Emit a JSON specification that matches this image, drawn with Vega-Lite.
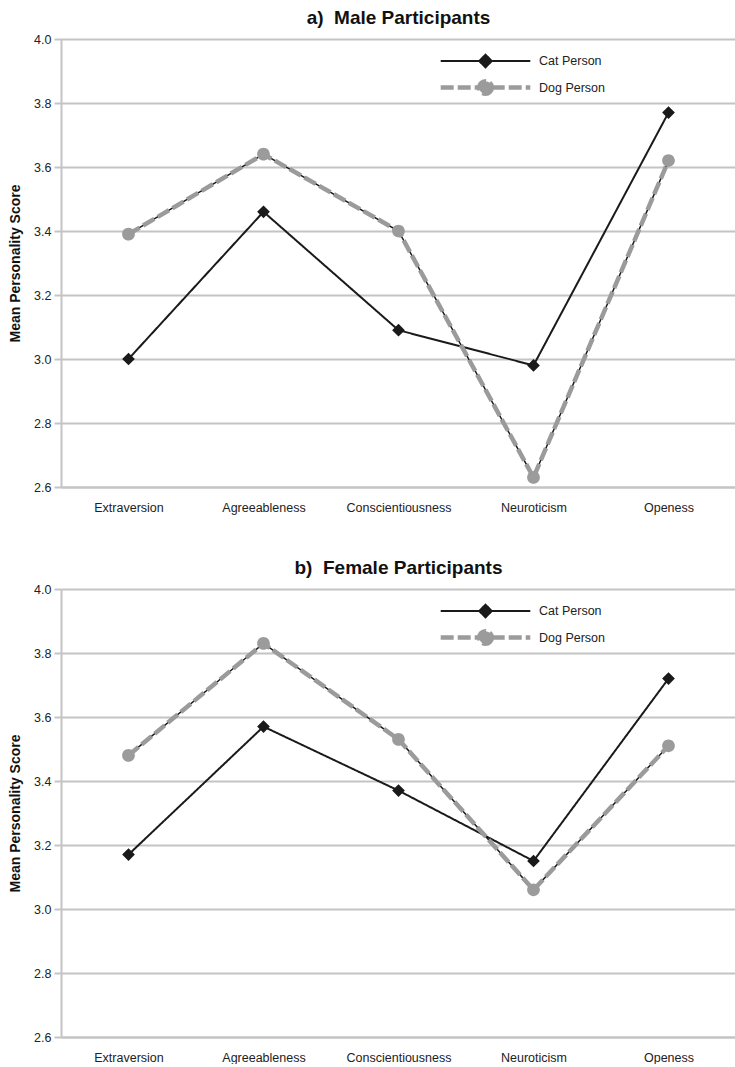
{
  "$schema": "https://vega.github.io/schema/vega-lite/v6.json",
  "padding": {"top": 9, "left": 8, "right": 0, "bottom": 0},
  "spacing": 45,
  "data": {"values": [
    {"gender": "Male", "trait": "Extraversion", "series": "Cat Person", "score": 3.00},
    {"gender": "Male", "trait": "Agreeableness", "series": "Cat Person", "score": 3.46},
    {"gender": "Male", "trait": "Conscientiousness", "series": "Cat Person", "score": 3.09},
    {"gender": "Male", "trait": "Neuroticism", "series": "Cat Person", "score": 2.98},
    {"gender": "Male", "trait": "Openess", "series": "Cat Person", "score": 3.77},
    {"gender": "Male", "trait": "Extraversion", "series": "Dog Person", "score": 3.39},
    {"gender": "Male", "trait": "Agreeableness", "series": "Dog Person", "score": 3.64},
    {"gender": "Male", "trait": "Conscientiousness", "series": "Dog Person", "score": 3.40},
    {"gender": "Male", "trait": "Neuroticism", "series": "Dog Person", "score": 2.63},
    {"gender": "Male", "trait": "Openess", "series": "Dog Person", "score": 3.62},
    {"gender": "Female", "trait": "Extraversion", "series": "Cat Person", "score": 3.17},
    {"gender": "Female", "trait": "Agreeableness", "series": "Cat Person", "score": 3.57},
    {"gender": "Female", "trait": "Conscientiousness", "series": "Cat Person", "score": 3.37},
    {"gender": "Female", "trait": "Neuroticism", "series": "Cat Person", "score": 3.15},
    {"gender": "Female", "trait": "Openess", "series": "Cat Person", "score": 3.72},
    {"gender": "Female", "trait": "Extraversion", "series": "Dog Person", "score": 3.48},
    {"gender": "Female", "trait": "Agreeableness", "series": "Dog Person", "score": 3.83},
    {"gender": "Female", "trait": "Conscientiousness", "series": "Dog Person", "score": 3.53},
    {"gender": "Female", "trait": "Neuroticism", "series": "Dog Person", "score": 3.06},
    {"gender": "Female", "trait": "Openess", "series": "Dog Person", "score": 3.51}
  ]},
  "vconcat": [
    {
      "title": {"text": "a)\u00a0\u00a0Male Participants"},
      "width": 675,
      "height": 448,
      "transform": [{"filter": "datum.gender === 'Male'"}],
      "encoding": {
        "x": {"field": "trait", "type": "nominal", "sort": ["Extraversion", "Agreeableness", "Conscientiousness", "Neuroticism", "Openess"], "scale": {"type": "point", "padding": 0.5}, "axis": {"title": null, "labelAngle": 0, "ticks": false, "labelPadding": 14, "grid": false}},
        "y": {"field": "score", "type": "quantitative", "scale": {"domain": [2.6, 4.0], "nice": false, "zero": false}, "axis": {"title": "Mean Personality Score", "values": [2.6, 2.8, 3.0, 3.2, 3.4, 3.6, 3.8, 4.0], "format": ".1f"}}
      },
      "layer": [
        {"transform": [{"filter": "datum.series === 'Dog Person'"}], "mark": {"type": "line", "color": "#1a1a1a", "strokeWidth": 1.5}},
        {"mark": {"type": "line"},
         "encoding": {
           "color": {"field": "series", "type": "nominal", "scale": {"domain": ["Cat Person", "Dog Person"], "range": ["#1a1a1a", "#9b9b9b"]}, "legend": {"title": null}},
           "strokeDash": {"field": "series", "type": "nominal", "scale": {"domain": ["Cat Person", "Dog Person"], "range": [[1, 0], [13, 4]]}, "legend": {"title": null}},
           "strokeWidth": {"field": "series", "type": "nominal", "scale": {"domain": ["Cat Person", "Dog Person"], "range": [2, 4.5]}, "legend": {"title": null}}
         }},
        {"mark": {"type": "point", "filled": true, "size": 200, "opacity": 1},
         "encoding": {
           "color": {"field": "series", "type": "nominal", "legend": {"title": null}},
           "shape": {"field": "series", "type": "nominal", "scale": {"domain": ["Cat Person", "Dog Person"], "range": ["M-6.4,0L6.4,0M0,-0.9L0.9,0L0,0.9L-0.9,0Z", "M-6.4,0L6.4,0M0.9,0A0.9,0.9,0,1,1,-0.9,0A0.9,0.9,0,1,1,0.9,0Z"]}, "legend": {"title": null}}
         }}
      ]
    },
    {
      "title": {"text": "b)\u00a0\u00a0Female Participants"},
      "width": 675,
      "height": 448,
      "transform": [{"filter": "datum.gender === 'Female'"}],
      "encoding": {
        "x": {"field": "trait", "type": "nominal", "sort": ["Extraversion", "Agreeableness", "Conscientiousness", "Neuroticism", "Openess"], "scale": {"type": "point", "padding": 0.5}, "axis": {"title": null, "labelAngle": 0, "ticks": false, "labelPadding": 14, "grid": false}},
        "y": {"field": "score", "type": "quantitative", "scale": {"domain": [2.6, 4.0], "nice": false, "zero": false}, "axis": {"title": "Mean Personality Score", "values": [2.6, 2.8, 3.0, 3.2, 3.4, 3.6, 3.8, 4.0], "format": ".1f"}}
      },
      "layer": [
        {"transform": [{"filter": "datum.series === 'Dog Person'"}], "mark": {"type": "line", "color": "#1a1a1a", "strokeWidth": 1.5}},
        {"mark": {"type": "line"},
         "encoding": {
           "color": {"field": "series", "type": "nominal", "scale": {"domain": ["Cat Person", "Dog Person"], "range": ["#1a1a1a", "#9b9b9b"]}, "legend": {"title": null}},
           "strokeDash": {"field": "series", "type": "nominal", "scale": {"domain": ["Cat Person", "Dog Person"], "range": [[1, 0], [13, 4]]}, "legend": {"title": null}},
           "strokeWidth": {"field": "series", "type": "nominal", "scale": {"domain": ["Cat Person", "Dog Person"], "range": [2, 4.5]}, "legend": {"title": null}}
         }},
        {"mark": {"type": "point", "filled": true, "size": 200, "opacity": 1},
         "encoding": {
           "color": {"field": "series", "type": "nominal", "legend": {"title": null}},
           "shape": {"field": "series", "type": "nominal", "scale": {"domain": ["Cat Person", "Dog Person"], "range": ["M-6.4,0L6.4,0M0,-0.9L0.9,0L0,0.9L-0.9,0Z", "M-6.4,0L6.4,0M0.9,0A0.9,0.9,0,1,1,-0.9,0A0.9,0.9,0,1,1,0.9,0Z"]}, "legend": {"title": null}}
         }}
      ]
    }
  ],
  "resolve": {"scale": {"color": "independent", "shape": "independent", "strokeDash": "independent", "strokeWidth": "independent"}, "legend": {"color": "independent", "shape": "independent", "strokeDash": "independent", "strokeWidth": "independent"}},
  "config": {
    "font": "Liberation Sans",
    "view": {"stroke": null},
    "title": {"fontSize": 19, "fontWeight": "bold", "color": "#111111", "anchor": "middle", "offset": 5},
    "axis": {"labelFont": "Liberation Sans", "labelFontSize": 12.5, "labelColor": "#222222", "titleFontSize": 14, "titleFontWeight": "bold", "titleColor": "#111111",
      "domainColor": "#c4c4c6", "domainWidth": 2, "tickColor": "#c4c4c6", "tickWidth": 2, "tickSize": 7,
      "gridColor": "#c4c4c6", "gridWidth": 2, "labelPadding": 3, "titlePadding": 11},
    "legend": {"labelFontSize": 12.5, "labelColor": "#222222", "labelFont": "Liberation Sans",
      "orient": "none", "legendX": 415, "legendY": 14, "symbolSize": 196, "labelOffset": 44, "rowPadding": 0, "padding": 0, "symbolOpacity": 1}
  }
}
